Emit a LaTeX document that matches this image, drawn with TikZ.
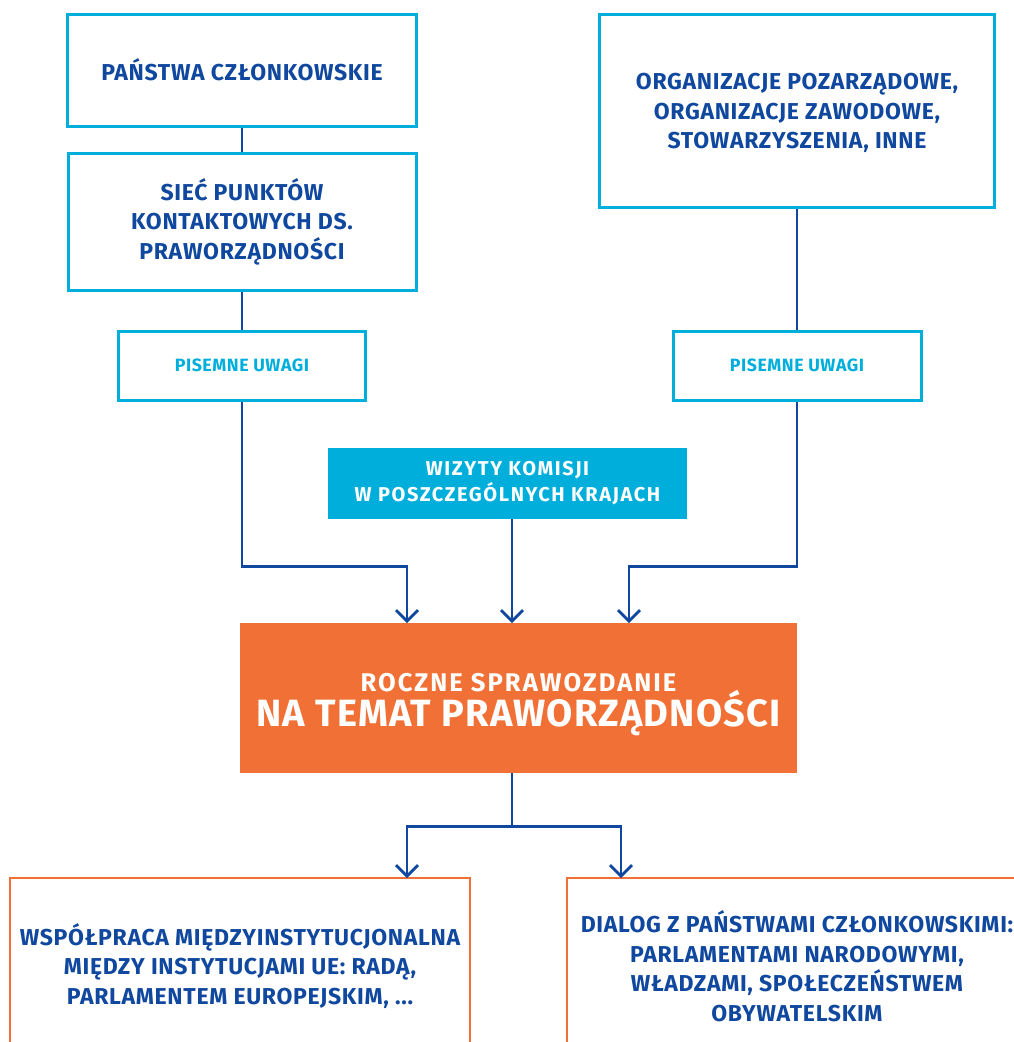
\documentclass[tikz,border=0pt]{standalone}
\usepackage{fontspec}
\setmainfont{Fira Sans}
\newfontfamily\spacedfont[LetterSpace=3]{Fira Sans}
\newfontfamily\widefont[LetterSpace=8]{Fira Sans}
\usetikzlibrary{arrows.meta}
\definecolor{ecblue}{RGB}{15,72,158}
\definecolor{eccyan}{RGB}{0,174,219}
\definecolor{ecorange}{RGB}{241,112,54}

\begin{document}
\begin{tikzpicture}[x=1pt,y=-1pt,
  inbox/.style={draw=eccyan,line width=3pt,align=center,inner sep=0pt,text=ecblue,
    font=\spacedfont\bfseries\fontsize{23}{29.5}\selectfont},
  notebox/.style={draw=eccyan,line width=3pt,inner sep=0pt,text=eccyan,
    font=\spacedfont\bfseries\fontsize{17.8}{20}\selectfont},
  outbox/.style={draw=ecorange,line width=2.6pt,align=center,inner sep=0pt,text=ecblue,
    font=\spacedfont\bfseries\fontsize{23}{29.5}\selectfont},
  link/.style={draw=ecblue,line width=2.8pt},
  arr/.style={link,-{Straight Barb[length=11pt,width=22pt,line width=2.8pt]}}]
\useasboundingbox (0,0) rectangle (1014,1042);
\clip (0,0) rectangle (1014,1042);

% sources
\node[inbox,minimum width=349,minimum height=112] (panstwa) at (242,70) {PAŃSTWA CZŁONKOWSKIE};
\node[inbox,minimum width=348,minimum height=137] (siec) at (242,221.5) {SIEĆ PUNKTÓW\\KONTAKTOWYCH DS.\\PRAWORZĄDNOŚCI};
\node[notebox,minimum width=247,minimum height=69] (uwagiL) at (242,365.5) {PISEMNE UWAGI};
\node[inbox,minimum width=395,minimum height=193] (org) at (797,110.5) {\rule{0pt}{22pt}ORGANIZACJE POZARZĄDOWE,\\ORGANIZACJE ZAWODOWE,\\STOWARZYSZENIA, INNE};
\node[notebox,minimum width=248,minimum height=69] (uwagiR) at (797,365.5) {PISEMNE UWAGI};
\node[fill=eccyan,text=white,align=center,inner sep=0pt,minimum width=359,minimum height=71,
  font=\widefont\bfseries\fontsize{20}{26}\selectfont] (wizyty) at (507.5,483.5) {WIZYTY KOMISJI\\W POSZCZEGÓLNYCH KRAJACH};

% report
\node[fill=ecorange,text=white,align=center,inner sep=0pt,minimum width=557,minimum height=150] (raport) at (518.5,698)
  {{\widefont\bfseries\fontsize{25.6}{38}\selectfont\rule{0pt}{31pt}ROCZNE SPRAWOZDANIE}\\[-3pt]{\spacedfont\bfseries\fontsize{38}{38}\selectfont NA TEMAT PRAWORZĄDNOŚCI}};

% follow-up
\node[outbox,minimum width=460,minimum height=176] (wspolpraca) at (240,966) {WSPÓŁPRACA MIĘDZYINSTYTUCJONALNA\\MIĘDZY INSTYTUCJAMI UE: RADĄ,\\PARLAMENTEM EUROPEJSKIM, ...};
\node[outbox,minimum width=460,minimum height=176] (dialog) at (797,966) {DIALOG Z PAŃSTWAMI CZŁONKOWSKIMI:\\PARLAMENTAMI NARODOWYMI,\\WŁADZAMI, SPOŁECZEŃSTWEM\\OBYWATELSKIM};

\coordinate (inL) at (407,623);
\coordinate (inM) at (512,623);
\coordinate (inR) at (629,623);
\coordinate (outL) at (407,878);
\coordinate (outR) at (621,878);

\draw[link] (panstwa.south) -- (siec.north);
\draw[link] (siec.south) -- (uwagiL.north);
\draw[link] (org.south) -- (uwagiR.north);
\draw[arr] (uwagiL.south) -- ++(0,165) -| (inL);
\draw[arr] (uwagiR.south) -- ++(0,165) -| (inR);
\draw[arr] (wizyty.south -| inM) -- (inM);
\draw[link] (raport.south -| inM) -- ++(0,53) coordinate (split);
\draw[arr] (split) -| (outL);
\draw[arr] (split) -| (outR);

\end{tikzpicture}
\end{document}
